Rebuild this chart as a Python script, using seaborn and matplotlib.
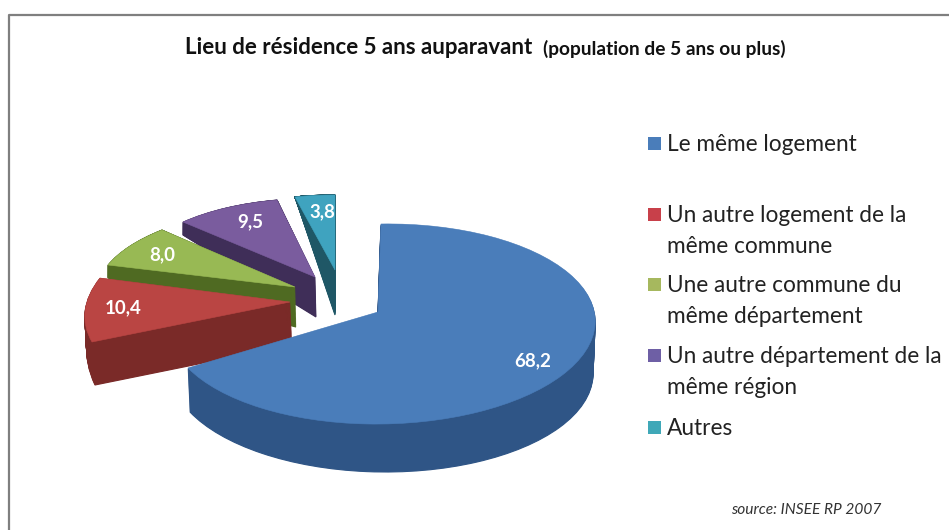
import numpy as np
import seaborn as sns
import matplotlib
matplotlib.use('Agg')
import matplotlib.pyplot as plt
from matplotlib.patches import Rectangle
from matplotlib.transforms import Affine2D

# data
categories = ['Le même logement', 'Un autre logement de la\nmême commune',
              'Une autre commune du\nmême département',
              'Un autre département de la\nmême région', 'Autres']
values = [68.2, 10.4, 8.0, 9.5, 3.8]

# colours
top_colors = ['#4A7DBA', '#BA4543', '#98B954', '#7A5C9E', '#3FA3BF']
side_colors = ['#2F5586', '#7A2A28', '#4F6A22', '#3F2E58', '#1F5766']
legend_colors = ['#4A7DBA', '#C8404A', '#A6B85E', '#6E5FA5', '#3FA8B8']

# page pixel anchors of each slice: apex, start of arc, end of arc
top_anchor = [[(382, 324), (381, 224), (188, 368)],
              [(290, 302), (92, 342), (100, 278)],
              [(295, 287), (108, 265), (162, 230)],
              [(315, 277), (183, 222), (277, 200)],
              [(335, 270), (295, 197), (335, 195)]]
bottom_anchor = [[(382, 372), (381, 272), (190, 412)],
                 [(292, 345), (95, 385), (100, 300)],
                 [(296, 327), (108, 278), (162, 235)],
                 [(316, 317), (183, 235), (277, 205)],
                 [(335, 315), (295, 197), (335, 197)]]
label_pos = [(533, 361), (123, 308), (162, 255), (250, 222), (322, 212)]
legend_y = [144, 215, 285, 356, 428]
blue_apex_shift = np.array([-4.0, -12.0])  # perspective moves the tip up

sns.set_theme(style='white')
plt.rcParams['font.family'] = ['Lato', 'DejaVu Sans']

fig = plt.figure(figsize=(9.49, 5.30), dpi=100)
ax = fig.add_axes([0, 0, 1, 1])


def slice_transform(wedge, pts):
    # affine that sends the unit pie slice on the three anchors
    p0, p1, p2 = np.array(pts, dtype=float)
    a1, a2 = np.radians(wedge.theta2), np.radians(wedge.theta1)
    src = np.array([[np.cos(a1), np.cos(a2)], [np.sin(a1), np.sin(a2)]])
    dst = np.column_stack([p1 - p0, p2 - p0])
    m = dst @ np.linalg.inv(src)
    mat = np.array([[m[0, 0], m[0, 1], p0[0]], [m[1, 0], m[1, 1], p0[1]], [0, 0, 1]])
    return Affine2D(mat) + ax.transData, m


order = {4: 10, 3: 20, 2: 30, 1: 40, 0: 50}
n_layers = 48
for k in range(n_layers + 1):
    t = k / n_layers
    top = k == n_layers
    wedges, _ = ax.pie(values, startangle=90, counterclock=False,
                       colors=top_colors if top else side_colors)
    for i, w in enumerate(wedges):
        pts = (1 - t) * np.array(bottom_anchor[i], dtype=float) + t * np.array(top_anchor[i], dtype=float)
        tr, m = slice_transform(w, pts)
        if i == 0:
            v = w.get_path().vertices
            tip = np.all(np.abs(v) < 1e-9, axis=1)
            v[tip] = np.linalg.inv(m) @ blue_apex_shift
        w.set_transform(tr)
        w.set_zorder(order[i] + t)
        w.set_linewidth(0.8 if not top else 0.4)
        w.set_edgecolor(side_colors[i] if not top else top_colors[i])

ax.set_aspect('auto')
ax.set_xlim(0, 949)
ax.set_ylim(530, 0)
ax.axis('off')

# frame of the picture
ax.plot([9, 9, 949], [530, 15, 15], color='#7F7F7F', lw=1.6, zorder=1, clip_on=False)

for v, (x, y) in zip(values, label_pos):
    ax.text(x, y, f'{v:.1f}'.replace('.', ','), color='white', fontsize=13.5,
            fontweight='bold', ha='center', va='center', zorder=80)

ax.text(185, 48, 'Lieu de résidence 5 ans auparavant', fontsize=16, fontweight='bold',
        color='#111111', ha='left', va='center', zorder=80)
ax.text(543, 49, '(population de 5 ans ou plus)', fontsize=13.8, fontweight='bold',
        color='#111111', ha='left', va='center', zorder=80)

for lab, y, c in zip(categories, legend_y, legend_colors):
    ax.add_patch(Rectangle((648, y - 7), 13, 13, color=c, lw=0, zorder=80))
    ax.text(667, y - 10, lab, fontsize=16.3, color='#222222', ha='left', va='top',
            linespacing=1.6, zorder=80)

ax.text(731, 510, 'source: INSEE RP 2007', fontsize=11.2, style='italic', color='#333333',
        ha='left', va='center', zorder=80)

fig.savefig('out.png', dpi=100)
